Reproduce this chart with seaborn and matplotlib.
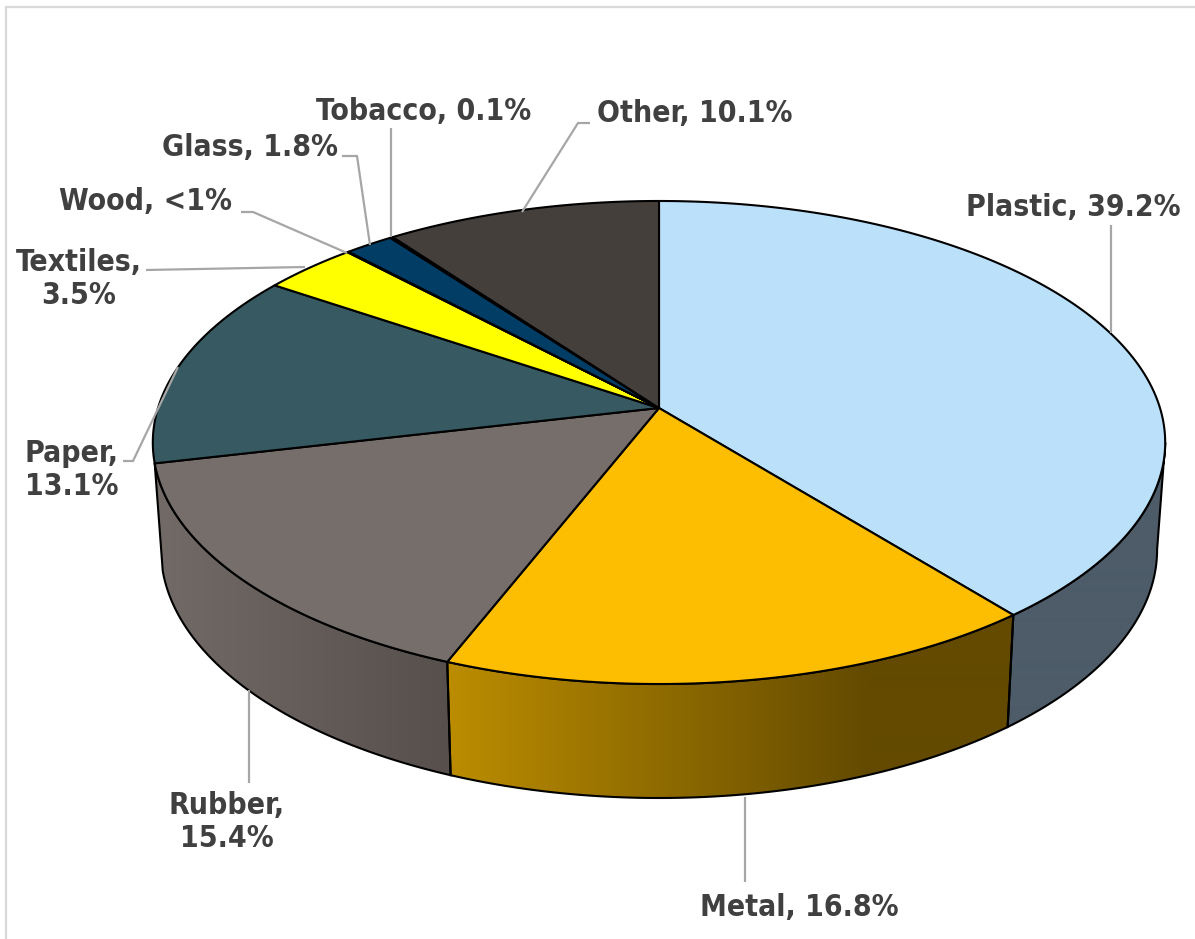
import numpy as np
import matplotlib
matplotlib.use("Agg")
import matplotlib.pyplot as plt
from matplotlib.colors import to_rgb
from matplotlib.patches import Polygon
import seaborn as sns

# Composition of the waste stream, percent, clockwise from twelve o'clock
categories = ["Plastic", "Metal", "Rubber", "Paper", "Textiles", "Wood", "Glass", "Tobacco", "Other"]
shares = [39.2, 16.8, 15.4, 13.1, 3.5, 0.05, 1.8, 0.1, 10.1]
share_text = ["39.2%", "16.8%", "15.4%", "13.1%", "3.5%", "<1%", "1.8%", "0.1%", "10.1%"]
wrapped = [False, False, True, True, True, False, False, False, False]

top_colors = ["#BAE0FA", "#FDBD00", "#766E6A", "#375A62", "#FFFF00", "#000000", "#023D66", "#111111", "#453F3B"]
# side wall shade at the left and right end of each visible wall
wall_colors = {"Plastic": ("#4D5C68", "#4D5C68"), "Metal": ("#BC8D00", "#634A00"), "Rubber": ("#716A66", "#574F4B")}
wall_fade_x = {"Plastic": (1000, 1170), "Metal": (447, 870), "Rubber": (160, 452)}

# Label anchors (centre of text) and leader polylines, in pixel coordinates
label_xy = {"Plastic": (1073, 208), "Metal": (799, 908), "Rubber": (227, 822), "Paper": (72, 470),
            "Textiles": (79, 279), "Wood": (146, 202), "Glass": (250, 147), "Tobacco": (424, 111), "Other": (695, 114)}
leaders = {"Plastic": [(1111, 225), (1111, 333)], "Metal": [(745, 797), (745, 882)], "Rubber": [(249, 690), (249, 783)],
           "Paper": [(123, 461), (133, 461), (178, 367)], "Textiles": [(146, 270), (305, 267)],
           "Wood": [(241, 212), (253, 212), (347, 253)], "Glass": [(342, 156), (357, 156), (370, 245)],
           "Tobacco": [(391, 128), (391, 237)], "Other": [(590, 123), (578, 123), (522, 212)]}

# Perspective of the disc: top rim and lower rim share the foreshortening
CX, TILT = 659.0, 1 / 7
TOP_RIM = dict(k=501.0, a=-178.3, b=408.0)
LOW_RIM = dict(k=493.0, a=-170.0, b=514.0)
TANGENT = np.degrees(np.arccos(-TILT))


def rim(theta_deg, k, a, b):
    t = np.radians(theta_deg)
    u, v = np.sin(t), np.cos(t)
    w = 1 + TILT * v
    return CX + k * u / w, (a * v + b) / w


def arc(start, stop, params):
    return np.column_stack(rim(np.linspace(start, stop, 200), **params))


sns.set_theme(style="white")
plt.rcParams["font.family"] = ["DejaVu Sans"]
palette = sns.color_palette(top_colors)

fig, ax = plt.subplots(figsize=(11.95, 9.39), dpi=100)
fig.subplots_adjust(0, 0, 1, 1)
ax.set_axis_off()

edges = np.concatenate([[0], np.cumsum(shares)]) / np.sum(shares) * 360

# Side walls first, only where they face the viewer
for name, start, stop in zip(categories, edges[:-1], edges[1:]):
    if name not in wall_colors:
        continue
    lo, hi = max(start, TANGENT), min(stop, 360 - TANGENT)
    outline = np.vstack([arc(lo, hi, TOP_RIM), arc(hi, lo, LOW_RIM)])
    x0, x1 = wall_fade_x[name]
    left, right = map(np.array, map(to_rgb, wall_colors[name]))
    xs = np.linspace(0, 1195, 1195)
    frac = np.clip((xs - x0) / (x1 - x0), 0, 1)[None, :, None]
    shade = left + (right - left) * frac
    clip = Polygon(outline, closed=True, transform=ax.transData, fc="none", ec="none")
    ax.add_patch(clip)
    img = ax.imshow(shade, extent=(0, 1195, 939, 0), aspect="auto", zorder=1, interpolation="bilinear")
    img.set_clip_path(clip)
    ax.add_patch(Polygon(outline, closed=True, fc="none", ec="black", lw=1.5, zorder=2))

# Top face of the disc
for name, start, stop, color in zip(categories, edges[:-1], edges[1:], palette):
    pts = np.vstack([[CX, TOP_RIM["b"]], arc(start, stop, TOP_RIM)])
    ax.add_patch(Polygon(pts, closed=True, fc=color, ec="black", lw=1.5, joinstyle="round", zorder=3))

# Leaders and labels
for name in categories:
    xs, ys = zip(*leaders[name])
    ax.plot(xs, ys, color="#A6A6A6", lw=1.6, zorder=4, solid_capstyle="butt")

for name, text, wrap in zip(categories, share_text, wrapped):
    sep = ",\n" if wrap else ", "
    x, y = label_xy[name]
    ax.text(x, y, f"{name}{sep}{text}", ha="center", va="center", fontsize=21.6, fontweight="bold",
            fontstretch="condensed", color="#404040", linespacing=1.2, zorder=5)

# Chart frame, visible along the top and left only
ax.plot([6.5, 1195], [6.5, 6.5], color="#D9D9D9", lw=1.6, zorder=0)
ax.plot([6.5, 6.5], [6.5, 939], color="#D9D9D9", lw=1.6, zorder=0)

ax.set_xlim(0, 1195)
ax.set_ylim(939, 0)
fig.savefig("out.png", dpi=100, facecolor="white")
